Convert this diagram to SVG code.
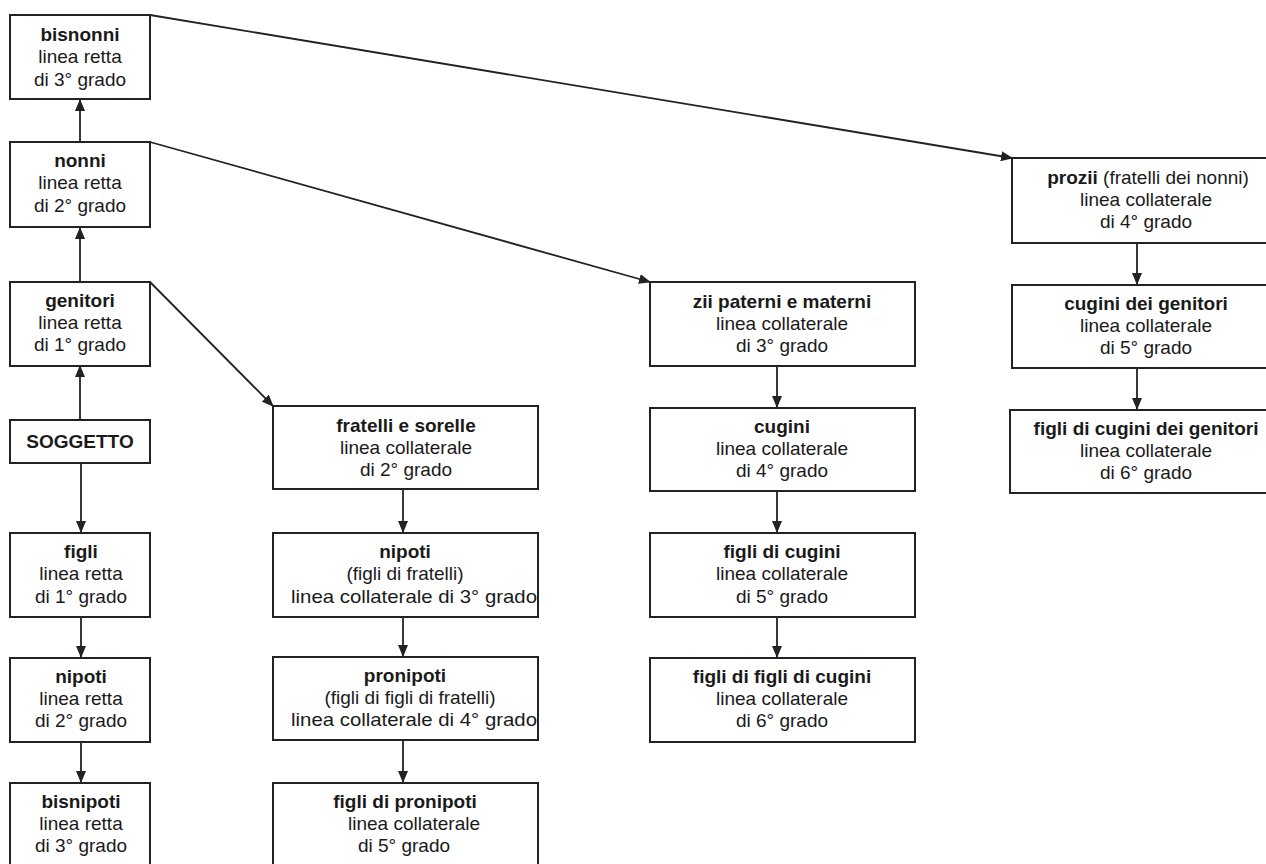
<svg xmlns="http://www.w3.org/2000/svg" width="1266" height="864" viewBox="0 0 1266 864">
<style>
.box{fill:#fff;stroke:#222;stroke-width:2}
.t{font-family:"Liberation Sans",Arial,sans-serif;font-size:19px;fill:#1a1a1a;text-anchor:middle}
.b{font-weight:bold}
.c{stroke:#222;stroke-width:1.8;fill:none}
</style>
<defs>
<marker id="ah" markerWidth="12" markerHeight="10" refX="11" refY="5" orient="auto" markerUnits="userSpaceOnUse">
<path d="M0,0 L12,5 L0,10 Z" fill="#222"/>
</marker>
</defs>
<rect width="1266" height="864" fill="#fff"/>
<g id="connectors">
<line class="c" x1="80" y1="142" x2="80" y2="100" marker-end="url(#ah)"/>
<line class="c" x1="80" y1="282" x2="80" y2="228" marker-end="url(#ah)"/>
<line class="c" x1="80" y1="420" x2="80" y2="366" marker-end="url(#ah)"/>
<line class="c" x1="81" y1="463" x2="81" y2="532" marker-end="url(#ah)"/>
<line class="c" x1="81" y1="617" x2="81" y2="657" marker-end="url(#ah)"/>
<line class="c" x1="81" y1="742" x2="81" y2="782" marker-end="url(#ah)"/>
<line class="c" x1="150" y1="15" x2="1012" y2="158" marker-end="url(#ah)"/>
<line class="c" x1="150" y1="142" x2="650" y2="282" marker-end="url(#ah)"/>
<line class="c" x1="150" y1="282" x2="273" y2="406" marker-end="url(#ah)"/>
<line class="c" x1="403" y1="489" x2="403" y2="532" marker-end="url(#ah)"/>
<line class="c" x1="403" y1="617" x2="403" y2="656" marker-end="url(#ah)"/>
<line class="c" x1="403" y1="740" x2="403" y2="782" marker-end="url(#ah)"/>
<line class="c" x1="777" y1="366" x2="777" y2="407" marker-end="url(#ah)"/>
<line class="c" x1="777" y1="491" x2="777" y2="532" marker-end="url(#ah)"/>
<line class="c" x1="777" y1="617" x2="777" y2="657" marker-end="url(#ah)"/>
<line class="c" x1="1137" y1="243" x2="1137" y2="284" marker-end="url(#ah)"/>
<line class="c" x1="1137" y1="368" x2="1137" y2="409" marker-end="url(#ah)"/>
</g>
<g id="bisnonni"><rect class="box" x="10" y="15" width="140" height="84"/>
<text class="t b" x="80" y="41">bisnonni</text><text class="t" x="80" y="63">linea retta</text><text class="t" x="80" y="86">di 3° grado</text></g>
<g id="nonni"><rect class="box" x="10" y="142" width="140" height="85"/>
<text class="t b" x="80" y="167">nonni</text><text class="t" x="80" y="189">linea retta</text><text class="t" x="80" y="212">di 2° grado</text></g>
<g id="genitori"><rect class="box" x="10" y="282" width="140" height="84"/>
<text class="t b" x="80" y="307">genitori</text><text class="t" x="80" y="329">linea retta</text><text class="t" x="80" y="351">di 1° grado</text></g>
<g id="soggetto"><rect class="box" x="10" y="420" width="140" height="43"/>
<text class="t b" x="80" y="448">SOGGETTO</text></g>
<g id="figli"><rect class="box" x="10" y="533" width="140" height="84"/>
<text class="t b" x="81" y="558">figli</text><text class="t" x="81" y="580">linea retta</text><text class="t" x="81" y="603">di 1° grado</text></g>
<g id="nipoti"><rect class="box" x="10" y="658" width="140" height="84"/>
<text class="t b" x="81" y="683">nipoti</text><text class="t" x="81" y="705">linea retta</text><text class="t" x="81" y="727">di 2° grado</text></g>
<g id="bisnipoti"><rect class="box" x="10" y="783" width="140" height="95"/>
<text class="t b" x="81" y="808">bisnipoti</text><text class="t" x="81" y="830">linea retta</text><text class="t" x="81" y="852">di 3° grado</text></g>
<g id="fratelli"><rect class="box" x="273" y="406" width="265" height="83"/>
<text class="t b" x="406" y="432">fratelli e sorelle</text><text class="t" x="406" y="454">linea collaterale</text><text class="t" x="406" y="476">di 2° grado</text></g>
<g id="nipoti-collaterali"><rect class="box" x="273" y="533" width="265" height="84"/>
<text class="t b" x="405" y="558">nipoti</text><text class="t" x="405" y="580">(figli di fratelli)</text><text class="t" x="414" y="603" textLength="246" lengthAdjust="spacingAndGlyphs">linea collaterale di 3° grado</text></g>
<g id="pronipoti"><rect class="box" x="273" y="657" width="265" height="83"/>
<text class="t b" x="405" y="682">pronipoti</text><text class="t" x="410" y="704">(figli di figli di fratelli)</text><text class="t" x="414" y="726" textLength="246" lengthAdjust="spacingAndGlyphs">linea collaterale di 4° grado</text></g>
<g id="figli-pronipoti"><rect class="box" x="273" y="783" width="265" height="95"/>
<text class="t b" x="405" y="808">figli di pronipoti</text><text class="t" x="414" y="830">linea collaterale</text><text class="t" x="404" y="852">di 5° grado</text></g>
<g id="zii"><rect class="box" x="650" y="282" width="265" height="84"/>
<text class="t b" x="782" y="308">zii paterni e materni</text><text class="t" x="782" y="330">linea collaterale</text><text class="t" x="782" y="352">di 3° grado</text></g>
<g id="cugini"><rect class="box" x="650" y="408" width="265" height="83"/>
<text class="t b" x="782" y="433">cugini</text><text class="t" x="782" y="455">linea collaterale</text><text class="t" x="782" y="477">di 4° grado</text></g>
<g id="figli-cugini"><rect class="box" x="650" y="533" width="265" height="84"/>
<text class="t b" x="782" y="558">figli di cugini</text><text class="t" x="782" y="580">linea collaterale</text><text class="t" x="782" y="603">di 5° grado</text></g>
<g id="figli-figli-cugini"><rect class="box" x="650" y="658" width="265" height="84"/>
<text class="t b" x="782" y="683">figli di figli di cugini</text><text class="t" x="782" y="705">linea collaterale</text><text class="t" x="782" y="727">di 6° grado</text></g>
<g id="prozii"><rect class="box" x="1012" y="158" width="272" height="85"/>
<text class="t" x="1148" y="184"><tspan class="b">prozii</tspan> (fratelli dei nonni)</text><text class="t" x="1146" y="206">linea collaterale</text><text class="t" x="1146" y="228">di 4° grado</text></g>
<g id="cugini-genitori"><rect class="box" x="1012" y="285" width="272" height="83"/>
<text class="t b" x="1146" y="310">cugini dei genitori</text><text class="t" x="1146" y="332">linea collaterale</text><text class="t" x="1146" y="354">di 5° grado</text></g>
<g id="figli-cugini-genitori"><rect class="box" x="1010" y="410" width="274" height="83"/>
<text class="t b" x="1146" y="435">figli di cugini dei genitori</text><text class="t" x="1146" y="457">linea collaterale</text><text class="t" x="1146" y="479">di 6° grado</text></g>
</svg>
